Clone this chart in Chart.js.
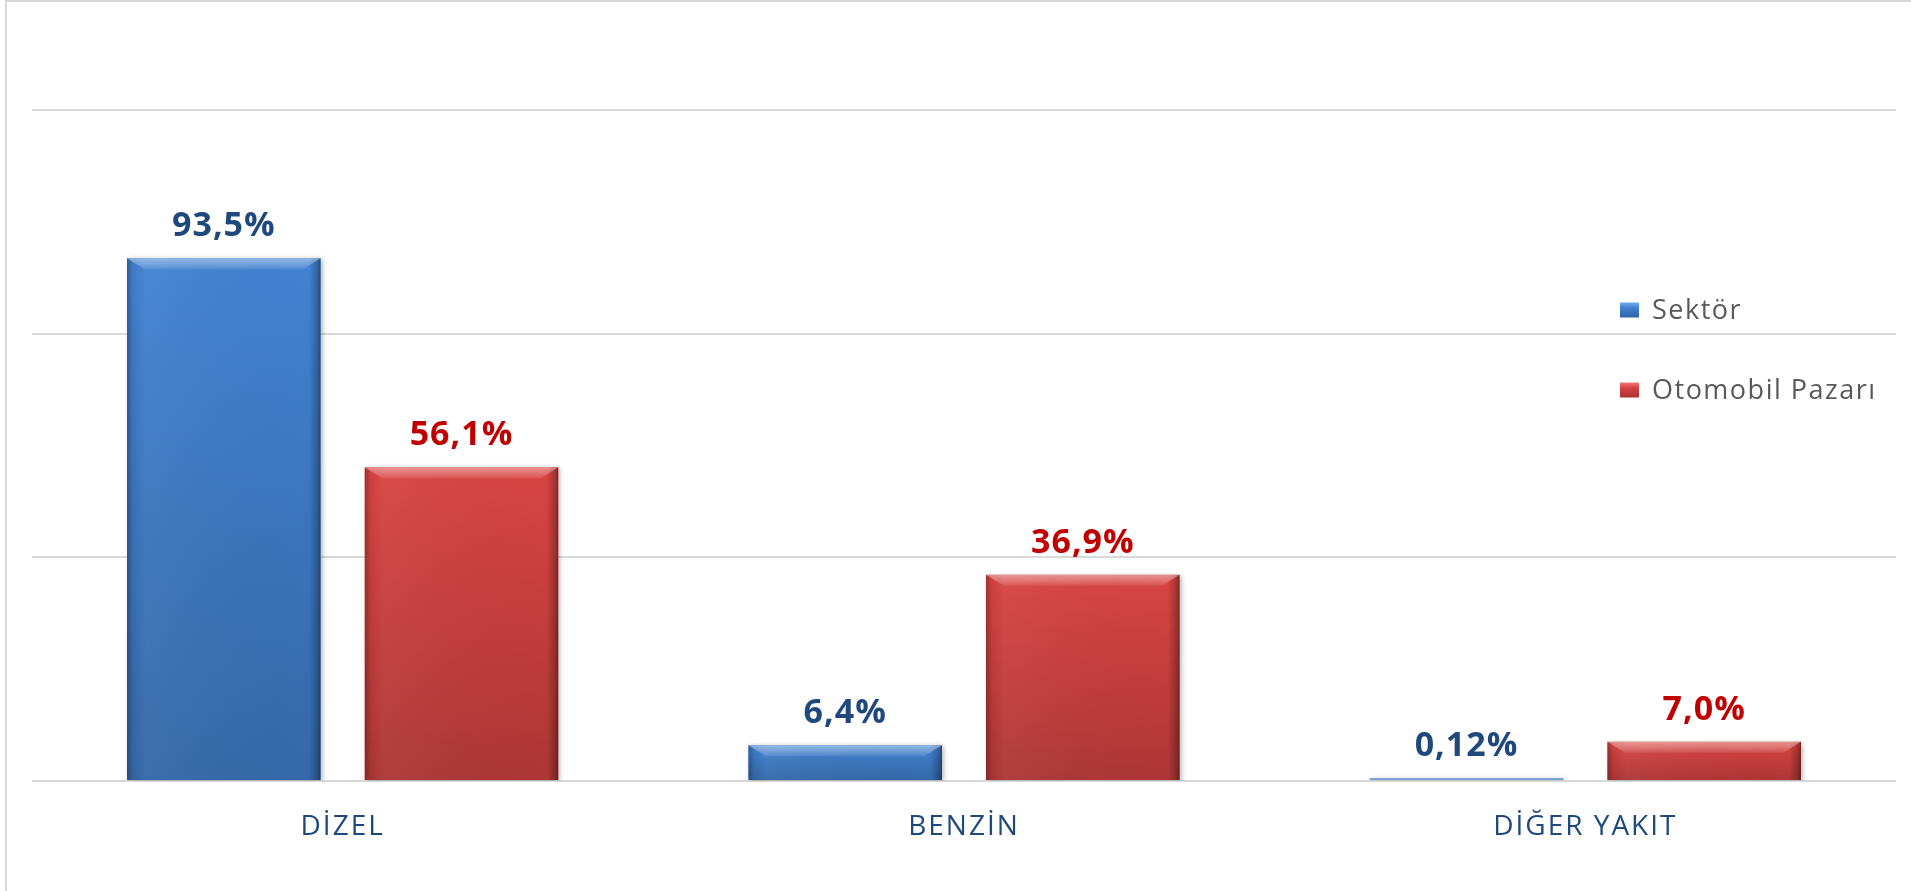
<!DOCTYPE html>
<html>
<head>
<meta charset="utf-8">
<script src="https://cdn.jsdelivr.net/npm/chart.js@4/dist/chart.umd.min.js"></script>
<style>
html,body{margin:0;padding:0;background:#fff;}
canvas{display:block;}
</style>
</head>
<body>
<canvas id="c" width="1911" height="891"></canvas>
<script>
const categories = ['DİZEL', 'BENZİN', 'DİĞER YAKIT'];
const seriesNames = ['Sektör', 'Otomobil Pazarı'];
const sektor = [93.5, 6.4, 0.12];
const otomobilPazari = [56.1, 36.9, 7.0];
const yTicks = [0, 40, 80, 120];

const BLUE = '#4282d2';
const RED = '#d84442';
const LABEL_COLORS = ['#1F497D', '#C00000'];

const fmt = new Intl.NumberFormat('tr-TR', {minimumFractionDigits: 1, maximumFractionDigits: 2});

const framePlugin = {
  id: 'frame',
  beforeDraw(chart) {
    const ctx = chart.ctx;
    ctx.save();
    ctx.fillStyle = '#ffffff';
    ctx.fillRect(0, 0, chart.width, chart.height);
    ctx.fillStyle = '#d9d9d9';
    ctx.fillRect(5, 0, 2, chart.height);
    ctx.fillRect(5, 0, chart.width - 5, 2);
    ctx.restore();
  }
};

const shadowPlugin = {
  id: 'barShadow',
  beforeDatasetDraw(chart) {
    const ctx = chart.ctx;
    ctx.save();
    ctx.shadowColor = 'rgba(0,0,0,0.30)';
    ctx.shadowBlur = 5;
    ctx.shadowOffsetX = 2;
    ctx.shadowOffsetY = 1;
  },
  afterDatasetDraw(chart) {
    chart.ctx.restore();
  }
};

const bevelPlugin = {
  id: 'bevel',
  afterDatasetsDraw(chart) {
    const ctx = chart.ctx;
    chart.data.datasets.forEach((ds, di) => {
      const meta = chart.getDatasetMeta(di);
      meta.data.forEach((el) => {
        const w = el.width;
        const left = el.x - w / 2, right = el.x + w / 2;
        const top = Math.min(el.y, el.base), bottom = Math.max(el.y, el.base);
        const h = bottom - top;
        if (h <= 4) return;
        ctx.save();
        ctx.beginPath();
        ctx.rect(left, top, w, h);
        ctx.clip();
        let g = ctx.createLinearGradient(0, top, 0, bottom);
        g.addColorStop(0, 'rgba(0,0,0,0)');
        g.addColorStop(1, 'rgba(0,0,0,0.20)');
        ctx.fillStyle = g;
        ctx.fillRect(left, top, w, h);
        g = ctx.createLinearGradient(left, 0, right, 0);
        g.addColorStop(0, 'rgba(0,0,0,0.28)');
        g.addColorStop(0.03, 'rgba(0,0,0,0.05)');
        g.addColorStop(0.10, 'rgba(255,255,255,0.04)');
        g.addColorStop(0.94, 'rgba(0,0,0,0.0)');
        g.addColorStop(0.985, 'rgba(0,0,0,0.25)');
        g.addColorStop(1, 'rgba(0,0,0,0.45)');
        ctx.fillStyle = g;
        ctx.fillRect(left, top, w, h);
        const b = Math.min(11, h / 3);
        ctx.beginPath();
        ctx.moveTo(left, top);
        ctx.lineTo(right, top);
        ctx.lineTo(right - b * 1.6, top + b);
        ctx.lineTo(left + b * 1.6, top + b);
        ctx.closePath();
        g = ctx.createLinearGradient(0, top, 0, top + b);
        g.addColorStop(0, 'rgba(255,255,255,0.42)');
        g.addColorStop(0.5, 'rgba(255,255,255,0.26)');
        g.addColorStop(1, 'rgba(255,255,255,0.08)');
        ctx.fillStyle = g;
        ctx.fill();
        ctx.restore();
      });
    });
  }
};

const valueLabelPlugin = {
  id: 'valueLabels',
  afterDatasetsDraw(chart) {
    const ctx = chart.ctx;
    ctx.save();
    ctx.font = 'bold 34px "Open Sans"';
    ctx.letterSpacing = '1px';
    ctx.textAlign = 'center';
    ctx.textBaseline = 'alphabetic';
    chart.data.datasets.forEach((ds, di) => {
      const meta = chart.getDatasetMeta(di);
      ctx.fillStyle = LABEL_COLORS[di];
      meta.data.forEach((el, i) => {
        ctx.fillText(fmt.format(ds.data[i]) + '%', el.x, Math.min(el.y, el.base) - 22);
      });
    });
    ctx.restore();
  }
};

const legendPlugin = {
  id: 'customLegend',
  afterDraw(chart) {
    const ctx = chart.ctx;
    ctx.save();
    ctx.font = '27px "Open Sans"';
    ctx.letterSpacing = '1.5px';
    ctx.textBaseline = 'middle';
    ctx.textAlign = 'left';
    const rows = [310, 390];
    const colors = [['#6aaef0', BLUE, '#2f62a6'], ['#f07a78', RED, '#a83030']];
    chart.data.datasets.forEach((ds, di) => {
      const y = rows[di];
      const sx = 1620, sw = 19, sh = 15;
      const g = ctx.createLinearGradient(0, y - sh / 2, 0, y + sh / 2);
      g.addColorStop(0, colors[di][0]);
      g.addColorStop(0.35, colors[di][1]);
      g.addColorStop(1, colors[di][2]);
      ctx.fillStyle = g;
      ctx.fillRect(sx, y - sh / 2, sw, sh);
      ctx.fillStyle = '#595959';
      ctx.fillText(ds.label, 1652, y + 1);
    });
    ctx.restore();
  }
};

new Chart(document.getElementById('c'), {
  type: 'bar',
  data: {
    labels: categories,
    datasets: [
      {label: seriesNames[0], data: sektor, backgroundColor: (c) => (c.raw !== undefined && c.raw < 1 ? '#7ba3d6' : BLUE), minBarLength: 3},
      {label: seriesNames[1], data: otomobilPazari, backgroundColor: RED, minBarLength: 3}
    ]
  },
  options: {
    responsive: false,
    devicePixelRatio: 1,
    animation: false,
    layout: {padding: {left: 32, right: 15, top: 110, bottom: 0}},
    datasets: {bar: {categoryPercentage: 0.765, barPercentage: 0.815}},
    plugins: {legend: {display: false}, tooltip: {enabled: false}},
    scales: {
      x: {
        grid: {display: false, drawTicks: false},
        border: {display: false},
        ticks: {color: '#1F497D', font: {family: 'Open Sans', size: 28}, padding: 29},
        afterFit(scale) { scale.height = 110; }
      },
      y: {
        min: 0, max: 120,
        afterBuildTicks(scale) { scale.ticks = yTicks.map(v => ({value: v})); },
        ticks: {display: false},
        grid: {color: '#d9d9d9', lineWidth: 2, drawTicks: false},
        border: {display: false},
        afterFit(scale) { scale.width = 0; }
      }
    }
  },
  plugins: [framePlugin, shadowPlugin, bevelPlugin, valueLabelPlugin, legendPlugin,
    {id: 'tickSpacing', beforeDraw(chart) { chart.ctx.letterSpacing = '2px'; }, afterDraw(chart) { chart.ctx.letterSpacing = '0px'; }}]
});
</script>
</body>
</html>
